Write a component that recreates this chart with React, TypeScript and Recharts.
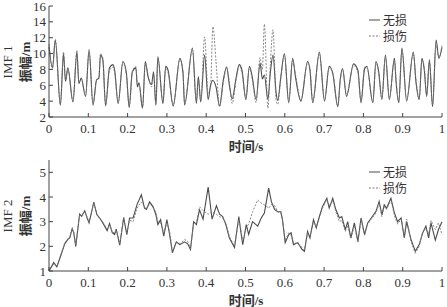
import React from 'react';
import { LineChart, Line, XAxis, YAxis } from 'recharts';

// IMF 1 — time (s) and amplitude (m)
const topTime = [
  0.0, 0.009, 0.016, 0.029, 0.037, 0.042, 0.048, 0.061, 0.071, 0.076, 0.082, 0.093,
  0.102, 0.112, 0.121, 0.127, 0.131, 0.137, 0.144, 0.154, 0.163, 0.167, 0.176, 0.188,
  0.197, 0.204, 0.212, 0.221, 0.225, 0.229, 0.238, 0.245, 0.252, 0.261, 0.266, 0.272,
  0.277, 0.29, 0.297, 0.303, 0.316, 0.333, 0.341, 0.345, 0.365, 0.375, 0.38, 0.386,
  0.396, 0.405, 0.411, 0.417, 0.425, 0.434, 0.444, 0.452, 0.459, 0.466, 0.476, 0.484,
  0.491, 0.501, 0.51, 0.517, 0.527, 0.537, 0.543, 0.548, 0.557, 0.563, 0.57, 0.578,
  0.582, 0.59, 0.599, 0.61, 0.62, 0.627, 0.641, 0.658, 0.664, 0.671, 0.688, 0.701,
  0.713, 0.722, 0.735, 0.741, 0.747, 0.757, 0.775, 0.786, 0.794, 0.803, 0.809, 0.824,
  0.832, 0.839, 0.847, 0.856, 0.866, 0.879, 0.883, 0.89, 0.898, 0.91, 0.927, 0.934,
  0.942, 0.949, 0.955, 0.961, 0.968, 0.976, 0.985, 0.992, 1.0,
];
const topIntact = [
  10.9, 8.2, 11.7, 3.5, 10.0, 6.5, 8.2, 3.9, 10.2, 6.2, 6.9, 4.6,
  10.4, 3.5, 6.7, 6.9, 9.8, 9.2, 3.4, 8.2, 8.6, 7.9, 3.7, 9.0,
  7.5, 3.2, 7.7, 8.2, 5.8, 6.3, 3.1, 9.0, 7.1, 6.1, 7.7, 3.5,
  9.6, 3.7, 8.4, 7.9, 3.4, 9.4, 7.5, 3.5, 10.7, 3.7, 7.1, 3.9,
  9.8, 4.2, 6.0, 6.6, 5.8, 3.4, 6.8, 8.3, 6.0, 4.3, 6.9, 8.6,
  7.9, 4.2, 8.4, 7.1, 4.2, 8.8, 6.8, 7.3, 4.2, 7.5, 9.8, 5.0,
  4.1, 7.1, 10.0, 3.8, 9.4, 7.1, 4.0, 9.0, 7.9, 3.8, 10.2, 4.0,
  8.4, 7.5, 3.3, 6.7, 8.1, 4.6, 8.7, 7.9, 3.8, 8.1, 8.4, 3.8,
  9.0, 7.7, 4.2, 9.8, 4.2, 9.4, 6.5, 3.8, 10.7, 4.0, 10.2, 6.3,
  4.2, 9.4, 7.9, 4.6, 9.2, 3.3, 11.7, 9.4, 10.8,
];
const topDamaged = [
  11.2, 8.0, 11.8, 3.6, 10.2, 6.6, 8.0, 4.0, 10.4, 6.4, 6.8, 4.7,
  10.5, 3.6, 6.6, 7.0, 10.0, 9.4, 3.5, 7.9, 8.3, 7.6, 3.8, 8.9,
  7.3, 3.3, 7.6, 8.4, 6.0, 6.0, 3.2, 8.8, 7.3, 5.8, 7.5, 3.6,
  9.4, 3.9, 8.2, 7.6, 3.5, 9.2, 7.8, 3.7, 10.5, 3.9, 6.8, 4.0,
  12.1, 5.0, 5.6, 13.4, 9.0, 3.3, 6.5, 8.2, 6.4, 3.7, 6.6, 8.5,
  7.6, 4.4, 8.3, 6.8, 3.8, 9.5, 8.0, 13.7, 3.1, 8.5, 13.0, 4.0,
  3.6, 7.0, 9.8, 3.9, 9.2, 7.4, 4.2, 8.8, 8.2, 4.0, 10.0, 4.2,
  8.2, 7.6, 3.4, 6.5, 8.0, 4.9, 8.5, 7.6, 4.0, 8.3, 8.2, 3.9,
  8.9, 7.4, 4.3, 9.6, 4.4, 9.2, 6.8, 3.9, 10.5, 4.2, 10.0, 6.6,
  4.3, 9.2, 8.2, 4.7, 9.0, 3.5, 11.0, 9.6, 11.0,
];

// IMF 2
const botTime = [
  0.0, 0.012, 0.02, 0.031, 0.04, 0.048, 0.053, 0.059, 0.063, 0.068, 0.078, 0.083,
  0.091, 0.097, 0.102, 0.114, 0.122, 0.129, 0.137, 0.148, 0.154, 0.161, 0.167, 0.171,
  0.18, 0.19, 0.198, 0.205, 0.214, 0.224, 0.235, 0.243, 0.248, 0.256, 0.265, 0.272,
  0.277, 0.284, 0.292, 0.3, 0.307, 0.314, 0.324, 0.333, 0.345, 0.353, 0.36, 0.368,
  0.375, 0.383, 0.392, 0.405, 0.415, 0.426, 0.434, 0.442, 0.45, 0.459, 0.472, 0.483,
  0.488, 0.493, 0.502, 0.508, 0.518, 0.531, 0.54, 0.548, 0.559, 0.566, 0.574, 0.582,
  0.59, 0.594, 0.601, 0.61, 0.616, 0.622, 0.633, 0.644, 0.65, 0.658, 0.664, 0.673,
  0.68, 0.688, 0.696, 0.707, 0.713, 0.722, 0.73, 0.739, 0.745, 0.754, 0.76, 0.768,
  0.777, 0.786, 0.794, 0.803, 0.811, 0.82, 0.832, 0.84, 0.847, 0.853, 0.859, 0.87,
  0.879, 0.887, 0.896, 0.904, 0.91, 0.921, 0.932, 0.942, 0.951, 0.959, 0.966, 0.972,
  0.983, 0.991, 1.0,
];
const botIntact = [
  1.0, 1.34, 1.17, 1.67, 2.1, 2.28, 2.35, 2.72, 2.55, 2.0, 3.31, 3.22,
  3.44, 3.15, 2.95, 3.79, 3.28, 3.15, 2.95, 2.64, 2.92, 2.55, 2.48, 2.7,
  2.05, 3.17, 2.47, 3.15, 3.15, 3.69, 4.09, 3.55, 3.5, 3.8, 3.6, 3.28,
  2.88, 3.08, 2.41, 3.08, 2.47, 1.74, 2.18, 2.07, 2.18, 2.1, 1.87, 3.0,
  2.88, 3.48, 3.1, 4.4, 3.1, 3.65, 3.3, 3.21, 2.88, 2.34, 1.95, 3.21,
  2.6, 2.07, 2.88, 2.48, 3.0, 2.82, 3.15, 3.35, 4.36, 3.8, 3.5, 3.4,
  3.4, 3.08, 2.15, 2.48, 2.55, 2.07, 2.15, 1.87, 1.8, 2.6, 2.34, 3.08,
  2.75, 3.21, 3.62, 3.95, 3.55, 3.95, 3.48, 3.15, 3.21, 2.68, 3.0, 2.34,
  2.95, 2.2, 3.15, 2.48, 2.95, 3.15, 3.42, 3.82, 3.28, 3.68, 3.55, 3.95,
  3.35, 3.0, 3.15, 2.34, 3.0, 2.28, 1.8, 2.07, 2.55, 2.82, 2.34, 2.95,
  2.25, 2.68, 3.0,
];
const botDamaged = [
  1.0, 1.3, 1.2, 1.7, 2.12, 2.3, 2.38, 2.7, 2.58, 2.05, 3.28, 3.25,
  3.42, 3.18, 2.98, 3.76, 3.3, 3.12, 2.98, 2.7, 2.88, 2.6, 2.52, 2.66,
  2.1, 3.12, 2.55, 3.05, 3.0, 3.55, 3.8, 3.6, 3.52, 3.75, 3.55, 3.4,
  3.0, 2.95, 2.55, 2.95, 2.6, 1.8, 2.15, 2.1, 2.28, 2.2, 1.9, 2.9,
  2.95, 3.6, 3.45, 3.3, 3.4, 3.3, 3.2, 3.15, 2.95, 2.4, 2.0, 3.1,
  2.7, 2.2, 2.75, 2.9, 3.4, 3.88, 3.75, 3.68, 3.55, 3.7, 3.65, 3.4,
  3.35, 3.1, 2.25, 2.55, 2.45, 2.15, 2.1, 1.95, 1.85, 2.55, 2.4, 3.0,
  2.8, 3.15, 3.55, 3.9, 3.65, 3.85, 3.4, 3.0, 3.05, 2.6, 2.85, 2.3,
  2.85, 2.15, 3.1, 2.45, 2.9, 3.1, 3.35, 3.75, 3.2, 3.6, 3.5, 3.88,
  3.25, 2.9, 3.1, 2.4, 3.1, 2.2, 1.72, 2.0, 2.6, 2.7, 2.5, 3.05,
  2.68, 2.95, 2.48,
];

const xTicks = [0, 0.1, 0.2, 0.3, 0.4, 0.5, 0.6, 0.7, 0.8, 0.9, 1];
const topYTicks = [2, 4, 6, 8, 10, 12, 14, 16];
const botYTicks = [1, 2, 3, 4, 5];
const seriesNames = ['无损', '损伤'];

const topData = topTime.map((t, i) => ({ t, u: topIntact[i], d: topDamaged[i] }));
const botData = botTime.map((t, i) => ({ t, u: botIntact[i], d: botDamaged[i] }));

const serif = '"Liberation Serif", "Times New Roman", "Noto Sans CJK SC", serif';
const tickStyle = { fontSize: 13, fill: '#333', fontFamily: serif };
const frame = '#444';

const fmtX = (v: number) => (v === 0 || v === 1 ? String(v) : v.toFixed(1));
const blank = () => '';

type PanelProps = {
  data: any[];
  top: number;
  height: number;
  domain: [number, number];
  yTicks: number[];
  imf: string;
  legendTop: number;
  curve: 'monotone' | 'linear';
};

const Panel = ({ data, top, height, domain, yTicks, imf, legendTop, curve }: PanelProps) => (
  <div style={{ position: 'absolute', left: 0, top, width: 447, height }}>
    <LineChart width={447} height={height} data={data} margin={{ top: 6, right: 5, bottom: 6, left: 29 }}>
      <XAxis
        dataKey="t"
        type="number"
        domain={[0, 1]}
        ticks={xTicks}
        tickFormatter={fmtX}
        stroke={frame}
        tickSize={-4}
        tickMargin={11}
        tick={tickStyle}
        height={30}
        interval={0}
      />
      <XAxis
        xAxisId="top"
        orientation="top"
        dataKey="t"
        type="number"
        domain={[0, 1]}
        ticks={xTicks}
        tickFormatter={blank}
        stroke={frame}
        tickSize={-4}
        height={0}
        interval={0}
      />
      <YAxis
        type="number"
        domain={domain}
        ticks={yTicks}
        stroke={frame}
        tickSize={-4}
        tickMargin={7}
        tick={tickStyle}
        width={20}
        interval={0}
        allowDataOverflow
      />
      <YAxis
        yAxisId="right"
        orientation="right"
        type="number"
        domain={domain}
        ticks={yTicks}
        tickFormatter={blank}
        stroke={frame}
        tickSize={-4}
        width={0}
        interval={0}
      />
      <Line
        dataKey="u"
        stroke="#4a4a4a"
        strokeWidth={1.1}
        dot={false}
        isAnimationActive={false}
        type={curve}
      />
      <Line
        dataKey="d"
        stroke="#7a7a7a"
        strokeWidth={0.9}
        strokeDasharray="2 1.5"
        dot={false}
        isAnimationActive={false}
        type={curve}
      />
    </LineChart>

    {/* y-axis titles */}
    <div
      style={{
        position: 'absolute', left: 8, top: 62, transform: 'translate(-50%, -50%) rotate(-90deg)',
        fontFamily: serif, fontSize: 13, color: '#333', whiteSpace: 'nowrap',
      }}
    >
      {imf}
    </div>
    <div
      style={{
        position: 'absolute', left: 24, top: 62, transform: 'translate(-50%, -50%) rotate(-90deg)',
        fontFamily: serif, fontSize: 13, color: '#333', whiteSpace: 'nowrap', fontWeight: 600,
      }}
    >
      振幅/m
    </div>

    {/* x-axis title */}
    <div
      style={{
        position: 'absolute', left: 246, top: 145, transform: 'translate(-50%, -50%)',
        fontFamily: serif, fontSize: 13, color: '#333', whiteSpace: 'nowrap', fontWeight: 600,
      }}
    >
      时间/s
    </div>

    {/* legend */}
    {seriesNames.map((name, i) => (
      <div
        key={name}
        style={{
          position: 'absolute', left: 369, top: legendTop + i * 16, height: 14, lineHeight: '14px',
          display: 'flex', alignItems: 'center',
          fontFamily: '"Noto Sans CJK SC", sans-serif', fontSize: 12, color: '#333',
        }}
      >
        <svg width={11} height={4} style={{ marginRight: 3 }}>
          <line
            x1={0} y1={2} x2={11} y2={2}
            stroke={i === 0 ? '#4a4a4a' : '#7a7a7a'}
            strokeWidth={1}
            strokeDasharray={i === 0 ? undefined : '2 1.5'}
          />
        </svg>
        {name}
      </div>
    ))}
  </div>
);

export default function App() {
  return (
    <div style={{ position: 'absolute', left: 0, top: 0, width: 447, height: 307, background: '#fff' }}>
      <Panel data={topData} top={0} height={153} domain={[2, 16]} yTicks={topYTicks} imf="IMF 1" legendTop={13} curve="monotone" />
      <Panel data={botData} top={154} height={153} domain={[1, 5.5]} yTicks={botYTicks} imf="IMF 2" legendTop={11} curve="linear" />
    </div>
  );
}
